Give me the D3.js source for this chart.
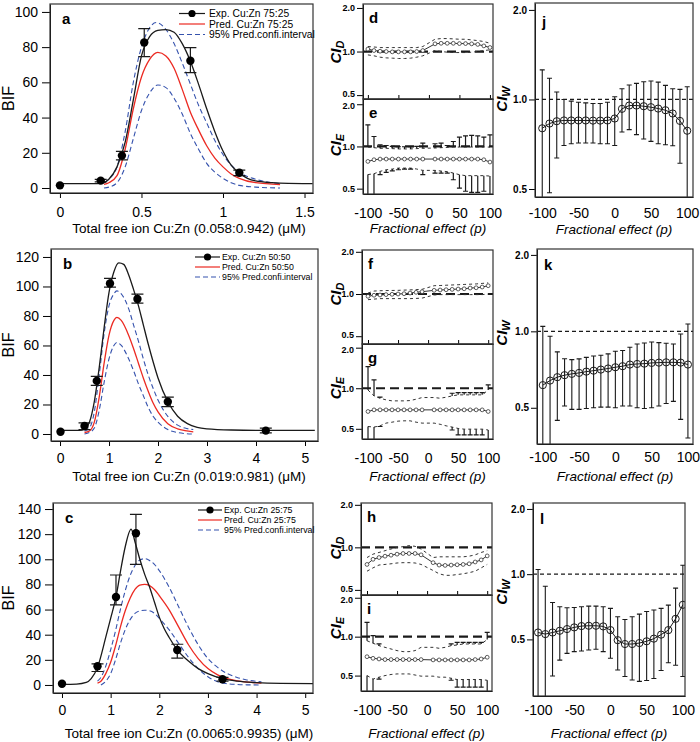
<!DOCTYPE html>
<html>
<head>
<meta charset="utf-8">
<script src="https://d3js.org/d3.v7.min.js"></script>
<style>
  body { margin: 0; background: #fff; }
</style>
</head>
<body>
<div id="my_chart"></div>
<script>

// ---------- values ----------

// left column: BIF vs total free ion
const aXTicks = [0, 0.5, 1, 1.5];
const aYTicks = [0, 20, 40, 60, 80, 100];
const aExpX  = [0, 0.25, 0.38, 0.517, 0.80, 1.10];
const aExpY  = [1.5, 4.2, 18.4, 82.6, 72.3, 8.7];
const aExpHi = [1.5, 4.9, 20.8, 90.5, 79.7, 10.2];
const aExpLo = [1.5, 3.5, 16.0, 74.6, 65.5, 7.0];
const aFit = [[0,2.5],[0.2,2.5],[0.26,2.8],[0.3,5],[0.35,12],[0.4,26],[0.45,50],[0.5,75],[0.55,86],[0.6,89.5],[0.65,90],[0.7,88.5],[0.75,82],[0.8,72],[0.85,59],[0.9,45],[0.95,32],[1.0,21],[1.05,13],[1.1,8.5],[1.15,5.5],[1.2,4],[1.3,3],[1.4,2.6],[1.55,2.5]];
const aPred = [[0.27,2],[0.3,3],[0.35,7],[0.4,22],[0.45,45],[0.5,63],[0.55,73],[0.6,77],[0.65,75],[0.7,68],[0.75,56],[0.8,43],[0.85,33],[0.9,24],[0.95,17],[1.0,12],[1.05,8],[1.1,5.5],[1.2,3],[1.35,2]];
const aPredHi = [[0.27,3],[0.3,5],[0.35,12],[0.4,32],[0.45,60],[0.5,80],[0.55,91],[0.59,94],[0.65,90],[0.7,82],[0.75,71],[0.8,59],[0.85,47],[0.9,37],[0.95,27],[1.0,19],[1.05,13],[1.1,9],[1.2,5],[1.35,2.5]];
const aPredLo = [[0.27,0],[0.3,0.5],[0.35,3],[0.4,12],[0.45,28],[0.5,44],[0.55,54],[0.6,58.5],[0.65,57],[0.7,51],[0.75,42],[0.8,31],[0.85,22],[0.9,14],[0.95,9],[1.0,5.5],[1.05,3],[1.1,1.5],[1.2,0.5],[1.35,0]];
const aLegend = ["Exp. Cu:Zn 75:25", "Pred. Cu:Zn 75:25", "95% Pred.confi.interval"];
const aTitle = "Total free ion Cu:Zn (0.058:0.942) (\u03bcM)";

const bXTicks = [0, 1, 2, 3, 4, 5];
const bYTicks = [0, 20, 40, 60, 80, 100, 120];
const bExpX  = [0.01, 0.5, 0.75, 1.02, 1.58, 2.2, 4.2];
const bExpY  = [1.5, 5.4, 36, 102, 91.5, 21.9, 2.3];
const bExpHi = [1.5, 7.5, 39, 105.5, 94.8, 25, 4];
const bExpLo = [1.5, 3, 33, 99.5, 88.7, 18.5, 0.8];
const bFit = [[0,2.5],[0.4,2.5],[0.5,3.5],[0.6,8],[0.7,22],[0.8,45],[0.9,72],[1.0,96],[1.1,110],[1.2,116],[1.3,115],[1.4,108],[1.5,98],[1.6,87],[1.7,74],[1.8,61],[1.9,49],[2.0,38],[2.2,22],[2.4,12],[2.6,7],[2.8,4.5],[3.0,3.5],[3.5,2.7],[4,2.5],[5.2,2.5]];
const bPred = [[0.5,1],[0.6,2],[0.7,8],[0.8,25],[0.9,48],[1.0,67],[1.1,77],[1.16,79],[1.25,77],[1.4,67],[1.5,58],[1.6,48],[1.7,38],[1.8,29],[1.9,21],[2.0,15],[2.2,7],[2.4,3.5],[2.55,2.3],[2.72,1.5]];
const bPredHi = [[0.5,2],[0.6,4],[0.7,15],[0.8,40],[0.9,68],[1.0,87],[1.1,95],[1.16,97],[1.25,95],[1.4,85],[1.5,74],[1.6,63],[1.7,51],[1.8,40],[1.9,31],[2.0,23],[2.2,12],[2.4,6],[2.55,4],[2.72,3]];
const bPredLo = [[0.5,0],[0.6,1],[0.7,4],[0.8,16],[0.9,35],[1.0,51],[1.1,60],[1.16,62],[1.25,60],[1.4,51],[1.5,43],[1.6,34],[1.7,26],[1.8,18],[1.9,12],[2.0,8],[2.2,3],[2.4,1],[2.55,0.3],[2.72,0]];
const bLegend = ["Exp. Cu:Zn 50:50", "Pred. Cu:Zn 50:50", "95% Pred.confi.interval"];
const bTitle = "Total free ion Cu:Zn (0.019:0.981) (\u03bcM)";

const cXTicks = [0, 1, 2, 3, 4, 5];
const cYTicks = [0, 20, 40, 60, 80, 100, 120, 140];
const cExpX  = [0, 0.73, 1.11, 1.52, 2.37, 3.3];
const cExpY  = [1, 14.9, 70, 120.7, 27.8, 4.5];
const cExpHi = [1, 16.8, 87.5, 135.8, 32.4, 6];
const cExpLo = [1, 10.7, 63.7, 96, 21.3, 3];
const cFit = [[0,0.5],[0.3,0.7],[0.5,2],[0.6,5],[0.73,14],[0.9,38],[1.0,53],[1.11,70],[1.2,90],[1.3,110],[1.42,124],[1.5,114],[1.6,100],[1.7,88],[1.8,78],[1.9,66],[2.0,54],[2.1,45],[2.2,38],[2.37,28],[2.6,19],[2.8,13],[3.0,9],[3.3,5],[3.6,3],[4.0,1.8],[4.5,1.2],[5.2,1]];
const cPred = [[0.73,1.5],[0.8,3],[0.9,9],[1.0,18],[1.1,31],[1.2,46],[1.3,59],[1.4,69],[1.5,76],[1.6,79.5],[1.7,80],[1.8,79],[1.9,76],[2.0,71],[2.2,60],[2.4,46],[2.6,32],[2.8,21],[3.0,13],[3.2,8],[3.4,5],[3.6,3.3],[3.8,2.3],[4.1,1.5]];
const cPredHi = [[0.73,3],[0.8,6],[0.9,15],[1.0,28],[1.1,43],[1.2,60],[1.3,75],[1.4,87],[1.5,95],[1.6,99.5],[1.7,100.5],[1.8,99],[1.9,96],[2.0,91],[2.2,78],[2.4,62],[2.6,46],[2.8,32],[3.0,21],[3.2,14],[3.4,9],[3.6,6],[3.8,4],[4.1,2.5]];
const cPredLo = [[0.8,0],[0.9,3],[1.0,9],[1.1,20],[1.2,33],[1.3,44],[1.4,52],[1.5,57],[1.6,59],[1.7,59.5],[1.8,59],[1.9,57],[2.0,53],[2.2,44],[2.4,33],[2.6,22],[2.8,13],[3.0,6.5],[3.2,2.5],[3.4,1],[3.6,0.4],[3.8,0.1],[4.1,0]];
const cLegend = ["Exp. Cu:Zn 25:75", "Pred. Cu:Zn 25:75", "95% Pred.confi.interval"];
const cTitle = "Total free ion Cu:Zn (0.0065:0.9935) (\u03bcM)";

// middle + right columns: fractional effect p
const pFull  = [-100,-90,-80,-70,-60,-50,-40,-30,-20,-10,0,10,20,30,40,50,60,70,80,90,100];
const pSplit = [-100,-90,-80,-70,-60,-50,-40,-30,-20,-10,10,20,30,40,50,60,70,80,90,100];
const pTicks = [-100, -50, 0, 50, 100];
const ciTicks = [0.5, 1.0, 2.0];

const dMid = [1.04,1.016,1.005,1.0,0.995,0.995,0.995,0.995,1.0,1.016,1.13,1.14,1.14,1.14,1.135,1.135,1.13,1.12,1.094,1.066];
const dHi  = [1.083,1.075,1.065,1.065,1.065,1.065,1.065,1.065,1.065,1.083,1.216,1.229,1.229,1.223,1.216,1.216,1.203,1.19,1.172,1.141];
const dLo  = [0.948,0.934,0.914,0.904,0.90,0.895,0.895,0.90,0.914,0.934,1.016,1.0,0.99,0.984,0.984,0.984,0.99,1.0,1.016,1.027];

const eMid   = [0.782,0.804,0.813,0.813,0.813,0.813,0.813,0.813,0.813,0.813,0.813,0.813,0.813,0.813,0.813,0.813,0.813,0.813,0.804,0.774];
const eHi    = [0.99,0.98,0.97,0.97,0.965,0.96,0.96,0.96,0.965,0.97,0.975,0.98,0.985,0.99,0.99,0.99,0.99,0.99,0.99,0.99];
const eBarHi = [1.426,1.178,1.028,1.016,1.0,0.995,0.995,0.995,1.0,1.056,1.045,1.056,1.016,1.085,1.165,1.191,1.198,1.191,1.165,1.21];
const eLo    = [0.63,0.639,0.664,0.682,0.69,0.701,0.701,0.701,0.69,0.675,0.675,0.668,0.661,0.646,0.629,0.619,0.619,0.619,0.619,0.615];
const eBarLo = [0.40,0.40,0.63,0.654,0.67,0.682,0.69,0.69,0.69,0.629,0.646,0.646,0.646,0.579,0.505,0.479,0.47,0.47,0.479,0.40];

const fMid = [0.963,0.98,0.984,0.99,0.995,1.0,1.005,1.016,1.028,1.039,1.062,1.068,1.073,1.079,1.085,1.09,1.103,1.108,1.121,1.146];
const fHi  = [1.016,1.05,1.055,1.058,1.06,1.062,1.066,1.07,1.075,1.08,1.146,1.15,1.155,1.16,1.165,1.17,1.175,1.18,1.19,1.2];
const fLo  = [0.911,0.92,0.927,0.927,0.927,0.927,0.927,0.927,0.93,0.935,0.984,0.99,0.99,0.99,0.99,0.99,0.99,0.99,0.99,1.0];

const gMid   = [0.672,0.691,0.691,0.691,0.691,0.691,0.691,0.691,0.691,0.691,0.691,0.691,0.691,0.691,0.691,0.691,0.691,0.691,0.691,0.672];
const gHi    = [0.97,0.877,0.843,0.82,0.806,0.806,0.806,0.81,0.829,0.853,0.853,0.843,0.858,0.877,0.893,0.893,0.893,0.893,0.893,0.97];
const gBarHi = [1.447,1.153,0.86,0.82,0.806,0.806,0.806,0.81,0.829,0.853,0.853,0.843,0.858,0.918,0.929,0.929,0.929,0.929,0.929,1.058];
const gLo    = [0.52,0.515,0.526,0.551,0.56,0.57,0.573,0.573,0.56,0.551,0.551,0.54,0.526,0.515,0.503,0.497,0.497,0.497,0.497,0.49];
const gBarLo = [0.38,0.38,0.52,0.551,0.56,0.57,0.573,0.573,0.56,0.551,0.551,0.54,0.526,0.49,0.45,0.45,0.45,0.45,0.45,0.38];

const hMid = [0.757,0.823,0.847,0.866,0.88,0.895,0.905,0.905,0.905,0.885,0.779,0.749,0.745,0.749,0.753,0.757,0.765,0.788,0.815,0.87];
const hHi  = [0.847,0.895,0.92,0.947,0.973,1.0,1.011,1.028,1.017,0.973,0.847,0.857,0.857,0.857,0.857,0.857,0.866,0.885,0.92,0.947];
const hLo  = [0.678,0.716,0.75,0.757,0.765,0.775,0.779,0.779,0.775,0.757,0.686,0.65,0.634,0.634,0.642,0.65,0.662,0.678,0.716,0.757];

const iMid   = [0.70,0.68,0.672,0.665,0.665,0.665,0.665,0.665,0.665,0.665,0.661,0.661,0.661,0.661,0.661,0.661,0.661,0.665,0.672,0.693];
const iHi    = [0.93,0.89,0.852,0.827,0.803,0.78,0.766,0.766,0.78,0.827,0.827,0.813,0.827,0.852,0.862,0.878,0.878,0.878,0.878,0.95];
const iBarHi = [1.29,1.018,0.878,0.827,0.803,0.78,0.766,0.766,0.78,0.827,0.827,0.813,0.827,0.878,0.904,0.904,0.904,0.904,0.904,1.08];
const iLo    = [0.50,0.47,0.486,0.5,0.51,0.515,0.515,0.515,0.505,0.495,0.495,0.486,0.486,0.477,0.466,0.466,0.466,0.466,0.466,0.46];
const iBarLo = [0.36,0.36,0.47,0.5,0.51,0.515,0.515,0.515,0.505,0.495,0.495,0.486,0.486,0.46,0.407,0.407,0.407,0.407,0.407,0.36];

const jMid = [0.80,0.83,0.845,0.85,0.85,0.85,0.85,0.849,0.849,0.85,0.863,0.93,0.954,0.954,0.949,0.942,0.932,0.92,0.897,0.847,0.785];
const jHi  = [1.257,1.178,1.059,1.0,0.987,0.979,0.974,0.969,0.969,0.979,1.021,1.087,1.118,1.133,1.147,1.153,1.144,1.115,1.087,1.081,1.104];
const jLo  = [0.40,0.486,0.636,0.70,0.71,0.714,0.714,0.714,0.71,0.71,0.70,0.777,0.792,0.762,0.736,0.723,0.71,0.704,0.699,0.61,0.40];

const kMid = [0.614,0.64,0.66,0.672,0.68,0.686,0.694,0.70,0.707,0.714,0.722,0.729,0.74,0.744,0.746,0.751,0.753,0.755,0.755,0.753,0.74];
const kHi  = [1.046,0.956,0.83,0.78,0.774,0.779,0.79,0.80,0.805,0.815,0.835,0.84,0.866,0.892,0.90,0.908,0.903,0.898,0.892,0.976,1.069];
const kLo  = [0.30,0.30,0.446,0.508,0.493,0.493,0.497,0.50,0.503,0.503,0.50,0.508,0.508,0.50,0.497,0.50,0.508,0.52,0.53,0.45,0.38];

const lMid = [0.538,0.529,0.538,0.548,0.558,0.568,0.576,0.578,0.578,0.574,0.552,0.496,0.476,0.476,0.481,0.49,0.504,0.526,0.552,0.622,0.722];
const lHi  = [1.05,0.88,0.74,0.707,0.70,0.702,0.707,0.712,0.712,0.707,0.695,0.636,0.618,0.636,0.654,0.673,0.683,0.695,0.72,0.862,1.1];
const lLo  = [0.2,0.2,0.339,0.401,0.431,0.439,0.442,0.447,0.45,0.439,0.409,0.361,0.337,0.325,0.32,0.323,0.33,0.359,0.39,0.38,0.337];

const pTitle = "Fractional effect (p)";


// ---------- layout ----------
const F = "'Liberation Sans', Arial, sans-serif";
const RED = "#ec2a22", BLUE = "#3552ad", INK = "#1a1a1a";

let svg = d3.select("#my_chart")
            .append("svg")
            .attr("width", 700)
            .attr("height", 742);

let defs = svg.append("defs");
let clipCount = 0;

function clipFor(box) {
    let id = "clip_" + (clipCount++);
    defs.append("clipPath").attr("id", id)
        .append("rect")
        .attr("x", box.x).attr("y", box.y)
        .attr("width", box.w).attr("height", box.h);
    return "url(#" + id + ")";
}

function frame(box) {
    svg.append("rect")
        .attr("x", box.x).attr("y", box.y)
        .attr("width", box.w).attr("height", box.h)
        .attr("fill", "none")
        .attr("stroke", "#333")
        .attr("stroke-width", 1.2);
}

function letter(txt, x, y) {
    svg.append("text")
        .attr("x", x).attr("y", y)
        .attr("font-family", F).attr("font-weight", "bold").attr("font-size", 15)
        .text(txt);
}

function ciLabel(sub, x, y) {
    let t = svg.append("text")
        .attr("transform", "translate(" + x + "," + y + ") rotate(-90)")
        .attr("text-anchor", "middle")
        .attr("font-family", F).attr("font-weight", "bold").attr("font-style", "italic")
        .attr("font-size", 15);
    t.append("tspan").text("CI");
    t.append("tspan").attr("font-size", 11).attr("dy", 3).text(sub);
}


// ---------- left column ----------
const bifPanels = [
    { letter: "a", box: {x: 50, y: 4, w: 263, h: 189}, xDom: [-0.061, 1.552], yDom: [-2.84, 104.5],
      xTicks: aXTicks, yTicks: aYTicks, ex: aExpX, ey: aExpY, eh: aExpHi, el: aExpLo,
      fit: aFit, pred: aPred, hi: aPredHi, lo: aPredLo, legend: aLegend, title: aTitle,
      leg: {x0: 179, x1: 205, ys: [13.5, 24, 34.5], tx: 209, fs: 10.3}, pad: 9, titleY: 233 },
    { letter: "b", box: {x: 51, y: 249, w: 267, h: 192}, xDom: [-0.184, 5.265], yDom: [-4.75, 125.4],
      xTicks: bXTicks, yTicks: bYTicks, ex: bExpX, ey: bExpY, eh: bExpHi, el: bExpLo,
      fit: bFit, pred: bPred, hi: bPredHi, lo: bPredLo, legend: bLegend, title: bTitle,
      leg: {x0: 195, x1: 220, ys: [257, 267, 277], tx: 222, fs: 8.8}, pad: 7, titleY: 481 },
    { letter: "c", box: {x: 53, y: 503, w: 260, h: 190}, xDom: [-0.185, 5.16], yDom: [-6.4, 144.8],
      xTicks: cXTicks, yTicks: cYTicks, ex: cExpX, ey: cExpY, eh: cExpHi, el: cExpLo,
      fit: cFit, pred: cPred, hi: cPredHi, lo: cPredLo, legend: cLegend, title: cTitle,
      leg: {x0: 198, x1: 222, ys: [510, 520, 530], tx: 224, fs: 8.8}, pad: 7, titleY: 738 }
];

bifPanels.forEach(p => {
    let b = p.box;
    let x = d3.scaleLinear().domain(p.xDom).range([b.x, b.x + b.w]);
    let y = d3.scaleLinear().domain(p.yDom).range([b.y + b.h, b.y]);

    svg.append("g")
        .attr("transform", "translate(" + b.x + ",0)")
        .call(d3.axisLeft(y).tickValues(p.yTicks).tickSize(8).tickSizeOuter(0).tickPadding(4))
        .attr("font-family", F).attr("font-size", 14);

    svg.append("g")
        .attr("transform", "translate(0," + (b.y + b.h) + ")")
        .call(d3.axisBottom(x).tickValues(p.xTicks).tickFormat(d => String(d)).tickSize(5).tickSizeOuter(0).tickPadding(p.pad))
        .attr("font-family", F).attr("font-size", 14);

    let g = svg.append("g").attr("clip-path", clipFor(b));

    let line = d3.line()
        .x(d => x(d[0]))
        .y(d => y(d[1]))
        .curve(d3.curveMonotoneX);

    g.append("path").attr("d", line(p.hi)).attr("fill", "none")
        .attr("stroke", BLUE).attr("stroke-width", 1.1).attr("stroke-dasharray", "5,3");
    g.append("path").attr("d", line(p.lo)).attr("fill", "none")
        .attr("stroke", BLUE).attr("stroke-width", 1.1).attr("stroke-dasharray", "5,3");
    g.append("path").attr("d", line(p.pred)).attr("fill", "none")
        .attr("stroke", RED).attr("stroke-width", 1.3);
    g.append("path").attr("d", line(p.fit)).attr("fill", "none")
        .attr("stroke", INK).attr("stroke-width", 1.3);

    // experimental points with error bars
    let pts = p.ex.map((v, i) => ({x: v, y: p.ey[i], hi: p.eh[i], lo: p.el[i]}));

    g.selectAll(".ebar")
        .data(pts.filter(d => d.hi > d.lo))
        .enter().append("path")
        .attr("d", d => {
            let px = x(d.x);
            return "M" + px + "," + y(d.lo) + "V" + y(d.hi) +
                   "M" + (px - 6) + "," + y(d.hi) + "H" + (px + 6) +
                   "M" + (px - 6) + "," + y(d.lo) + "H" + (px + 6);
        })
        .attr("stroke", INK).attr("stroke-width", 1.2).attr("fill", "none");

    g.selectAll(".dot")
        .data(pts)
        .enter().append("circle")
        .attr("cx", d => x(d.x))
        .attr("cy", d => y(d.y))
        .attr("r", 4.2)
        .attr("fill", "#000");

    frame(b);
    letter(p.letter, b.x + 12, b.y + 20);

    svg.append("text")
        .attr("transform", "translate(14," + (b.y + b.h / 2) + ") rotate(-90)")
        .attr("text-anchor", "middle")
        .attr("font-family", F).attr("font-size", 16)
        .text("BIF");

    svg.append("text")
        .attr("x", 189).attr("y", p.titleY)
        .attr("text-anchor", "middle")
        .attr("font-family", F).attr("font-size", 13.5)
        .text(p.title);

    // legend
    let L = p.leg;
    let styles = [
        {stroke: INK, dash: null, w: 1.2},
        {stroke: RED, dash: null, w: 1.2},
        {stroke: BLUE, dash: "5,3", w: 1.1}
    ];
    p.legend.forEach((txt, i) => {
        svg.append("line")
            .attr("x1", L.x0).attr("x2", L.x1)
            .attr("y1", L.ys[i]).attr("y2", L.ys[i])
            .attr("stroke", styles[i].stroke)
            .attr("stroke-width", styles[i].w)
            .attr("stroke-dasharray", styles[i].dash);
        if (i === 0) {
            svg.append("circle")
                .attr("cx", (L.x0 + L.x1) / 2).attr("cy", L.ys[i])
                .attr("r", 3.6).attr("fill", "#000");
        }
        svg.append("text")
            .attr("x", L.tx).attr("y", L.ys[i]).attr("dy", "0.35em")
            .attr("font-family", F).attr("font-size", L.fs)
            .text(txt);
    });
});


// ---------- middle column (CI_D over CI_E) ----------
const ciPanels = [
    { letter: "d", sub: "D", box: {x: 363, y: 4, w: 130, h: 95}, xDom: [-108, 105], yDom: [0.47, 2.13],
      mid: dMid, hi: dHi, lo: dLo, labY: 52, top: true },
    { letter: "e", sub: "E", box: {x: 363, y: 99, w: 130, h: 95}, xDom: [-108, 105], yDom: [0.458, 2.18],
      mid: eMid, hi: eHi, lo: eLo, bh: eBarHi, bl: eBarLo, labY: 145, titleY: 233 },
    { letter: "f", sub: "D", box: {x: 362, y: 250, w: 131, h: 94}, xDom: [-110, 108], yDom: [0.44, 2.06],
      mid: fMid, hi: fHi, lo: fLo, labY: 294, top: true },
    { letter: "g", sub: "E", box: {x: 362, y: 344, w: 131, h: 95}, xDom: [-110, 108], yDom: [0.42, 2.13],
      mid: gMid, hi: gHi, lo: gLo, bh: gBarHi, bl: gBarLo, labY: 388, titleY: 481 },
    { letter: "h", sub: "D", box: {x: 361, y: 503, w: 131, h: 92}, xDom: [-110, 108], yDom: [0.46, 2.06],
      mid: hMid, hi: hHi, lo: hLo, labY: 548, top: true },
    { letter: "i", sub: "E", box: {x: 361, y: 595, w: 131, h: 96}, xDom: [-110, 108], yDom: [0.38, 2.1],
      mid: iMid, hi: iHi, lo: iLo, bh: iBarHi, bl: iBarLo, labY: 628, titleY: 738 }
];

ciPanels.forEach(p => {
    let b = p.box;
    let x = d3.scaleLinear().domain(p.xDom).range([b.x, b.x + b.w]);
    let y = d3.scaleLog().domain(p.yDom).range([b.y + b.h, b.y]);

    let ya = svg.append("g")
        .attr("transform", "translate(" + b.x + ",0)")
        .call(d3.axisLeft(y).tickValues(ciTicks).tickFormat(d3.format(".1f")).tickSize(6).tickSizeOuter(0).tickPadding(2))
        .attr("font-family", F).attr("font-size", 9).attr("font-weight", "bold");

    // the stacked panels share an edge: keep 0.5 (upper) and 2.0 (lower) labels apart
    ya.selectAll(".tick text")
        .attr("y", d => (p.top && d === 0.5) ? -1.5 : (!p.top && d === 2.0) ? 1.5 : 0);

    if (p.top) {
        // small inward ticks along the shared edge
        svg.append("g")
            .attr("transform", "translate(0," + (b.y + b.h) + ")")
            .call(d3.axisTop(x).tickValues(pTicks).tickFormat("").tickSize(4).tickSizeOuter(0));
    } else {
        svg.append("g")
            .attr("transform", "translate(0," + (b.y + b.h) + ")")
            .call(d3.axisBottom(x).tickValues(pTicks).tickFormat(d => String(d)).tickSize(0).tickSizeOuter(0).tickPadding(14))
            .attr("font-family", F).attr("font-size", 14);
        svg.append("text")
            .attr("x", b.x + b.w / 2).attr("y", p.titleY)
            .attr("text-anchor", "middle")
            .attr("font-family", F).attr("font-style", "italic").attr("font-size", 13.5)
            .text(pTitle);
    }

    let g = svg.append("g").attr("clip-path", clipFor(b));

    let pts = pSplit.map((v, i) => ({
        p: v, m: p.mid[i], h: p.hi[i], l: p.lo[i],
        bh: p.bh ? p.bh[i] : p.hi[i], bl: p.bl ? p.bl[i] : p.lo[i]
    }));

    // reference at 1.0
    g.append("line")
        .attr("x1", b.x).attr("x2", b.x + b.w)
        .attr("y1", y(1)).attr("y2", y(1))
        .attr("stroke", INK).attr("stroke-width", 2.2).attr("stroke-dasharray", "9,5");

    let dashed = d3.line().x(d => x(d.p));
    g.append("path").attr("d", dashed.y(d => y(d.h))(pts))
        .attr("fill", "none").attr("stroke", "#333").attr("stroke-width", 1).attr("stroke-dasharray", "3,3");
    g.append("path").attr("d", dashed.y(d => y(d.l))(pts))
        .attr("fill", "none").attr("stroke", "#333").attr("stroke-width", 1).attr("stroke-dasharray", "3,3");

    // error bars beyond the dashed band
    g.selectAll(".up")
        .data(pts.filter(d => d.bh > d.h * 1.005))
        .enter().append("path")
        .attr("d", d => "M" + x(d.p) + "," + y(d.h) + "V" + y(d.bh) +
                        "M" + (x(d.p) - 2.5) + "," + y(d.bh) + "H" + (x(d.p) + 2.5))
        .attr("stroke", INK).attr("stroke-width", 1.2).attr("fill", "none");
    g.selectAll(".dn")
        .data(pts.filter(d => d.bl < d.l * 0.995))
        .enter().append("path")
        .attr("d", d => "M" + x(d.p) + "," + y(d.l) + "V" + y(d.bl) +
                        "M" + (x(d.p) - 2.5) + "," + y(d.bl) + "H" + (x(d.p) + 2.5))
        .attr("stroke", INK).attr("stroke-width", 1.2).attr("fill", "none");

    g.append("path")
        .attr("d", d3.line().x(d => x(d.p)).y(d => y(d.m))(pts))
        .attr("fill", "none").attr("stroke", "#333").attr("stroke-width", 1);

    g.selectAll(".m")
        .data(pts)
        .enter().append("circle")
        .attr("cx", d => x(d.p)).attr("cy", d => y(d.m))
        .attr("r", 1.9)
        .attr("fill", "#fff").attr("stroke", "#333").attr("stroke-width", 0.8);

    frame(b);
    letter(p.letter, b.x + 6, b.y + 19);
    ciLabel(p.sub, 341, p.labY);
});


// ---------- right column (CI_W) ----------
const wPanels = [
    { letter: "j", box: {x: 535, y: 3, w: 158, h: 194}, xDom: [-110, 108], yDom: [0.47, 2.11],
      mid: jMid, hi: jHi, lo: jLo, labY: 99, pad: 11, titleY: 234, ly: 24 },
    { letter: "k", box: {x: 537, y: 249, w: 156, h: 195}, xDom: [-108, 107], yDom: [0.36, 2.11],
      mid: kMid, hi: kHi, lo: kLo, labY: 333, pad: 8, titleY: 481, ly: 21 },
    { letter: "l", box: {x: 533, y: 503, w: 152, h: 193}, xDom: [-107, 103], yDom: [0.274, 2.13],
      mid: lMid, hi: lHi, lo: lLo, labY: 592, pad: 9, titleY: 738, ly: 21 }
];

wPanels.forEach(p => {
    let b = p.box;
    let x = d3.scaleLinear().domain(p.xDom).range([b.x, b.x + b.w]);
    let y = d3.scaleLog().domain(p.yDom).range([b.y + b.h, b.y]);

    svg.append("g")
        .attr("transform", "translate(" + b.x + ",0)")
        .call(d3.axisLeft(y).tickValues(ciTicks).tickFormat(d3.format(".1f")).tickSize(6).tickSizeOuter(0).tickPadding(2))
        .attr("font-family", F).attr("font-size", 10).attr("font-weight", "bold");

    svg.append("g")
        .attr("transform", "translate(0," + (b.y + b.h) + ")")
        .call(d3.axisBottom(x).tickValues(pTicks).tickFormat(d => String(d)).tickSize(0).tickSizeOuter(0).tickPadding(p.pad))
        .attr("font-family", F).attr("font-size", 14);

    svg.append("text")
        .attr("x", b.x + b.w / 2).attr("y", p.titleY)
        .attr("text-anchor", "middle")
        .attr("font-family", F).attr("font-style", "italic").attr("font-size", 13.5)
        .text(pTitle);

    let g = svg.append("g").attr("clip-path", clipFor(b));

    g.append("line")
        .attr("x1", b.x).attr("x2", b.x + b.w)
        .attr("y1", y(1)).attr("y2", y(1))
        .attr("stroke", INK).attr("stroke-width", 1.2).attr("stroke-dasharray", "4,3");

    let pts = pFull.map((v, i) => ({p: v, m: p.mid[i], h: p.hi[i], l: p.lo[i]}));

    g.selectAll(".eb")
        .data(pts)
        .enter().append("path")
        .attr("d", d => {
            let px = x(d.p);
            return "M" + px + "," + y(d.l) + "V" + y(d.h) +
                   "M" + (px - 2.5) + "," + y(d.h) + "H" + (px + 2.5) +
                   "M" + (px - 2.5) + "," + y(d.l) + "H" + (px + 2.5);
        })
        .attr("stroke", INK).attr("stroke-width", 1.1).attr("fill", "none");

    g.append("path")
        .attr("d", d3.line().x(d => x(d.p)).y(d => y(d.m))(pts))
        .attr("fill", "none").attr("stroke", INK).attr("stroke-width", 1);

    g.selectAll(".c")
        .data(pts)
        .enter().append("circle")
        .attr("cx", d => x(d.p)).attr("cy", d => y(d.m))
        .attr("r", 3.6)
        .attr("fill", "none").attr("stroke", INK).attr("stroke-width", 1);

    frame(b);
    letter(p.letter, b.x + 7, b.y + p.ly);
    ciLabel("W", 507, p.labY);
});

</script>
</body>
</html>
